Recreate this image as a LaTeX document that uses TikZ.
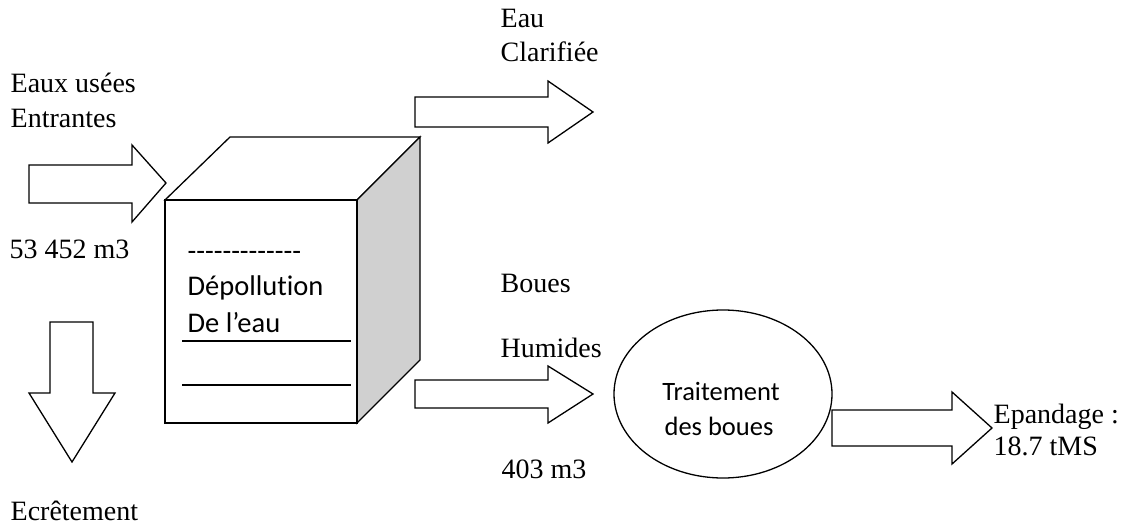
\documentclass[tikz,border=0pt]{standalone}
\usepackage{fontspec}
\setmainfont{Liberation Serif}
\newfontfamily\calib[Ligatures=NoCommon]{Carlito}
\usetikzlibrary{shapes.geometric}
\definecolor{sidegray}{RGB}{208,208,208}
\begin{document}
\begin{tikzpicture}[x=1pt,y=-1pt,line width=1.3pt,line join=miter,
  lbl/.style={anchor=base west,inner sep=0pt,font=\fontsize{28}{33}\selectfont},
  boxtxt/.style={anchor=base west,inner sep=0pt,font=\calib\fontsize{28.5}{34}\selectfont},
  elltxt/.style={anchor=base,inner sep=0pt,font=\calib\fontsize{26.5}{32}\selectfont},
  blockarrow/.style={draw,fill=white}]
\useasboundingbox (0,0) rectangle (1133,524);

% --- 3D box ---
\draw[fill=white] (165,200) -- (230,137) -- (420,137) -- (357,200) -- cycle;
\draw[fill=sidegray] (357,200) -- (420,137) -- (420,360) -- (357,423) -- cycle;
\draw[fill=white] (165,200) rectangle (357,423);
\node[boxtxt] (dash) at (187,260.5) {-------------};
\node[boxtxt] (dep) at (187,295) {Dépollution};
\node[boxtxt] (deleau) at (187,332) {De l’eau};
\coordinate (l1a) at (182,341); \coordinate (l1b) at (351,341);
\coordinate (l2a) at (182,385); \coordinate (l2b) at (351,385);
\draw (l1a) -- (l1b);
\draw (l2a) -- (l2b);

% --- ellipse ---
\node[draw,ellipse,minimum width=218pt,minimum height=168pt,inner sep=0pt] (trt) at (723,394) {};
\node[elltxt] (trt1) at (721,400) {Traitement};
\node[elltxt] (trt2) at (719,435) {des boues};

% --- block arrows ---
% inlet
\draw[blockarrow] (29,165) -- (132,165) -- (132,145) -- (166,183) -- (132,222) -- (132,203) -- (29,203) -- cycle;
% ecretement (down)
\draw[blockarrow] (50,322) -- (93,322) -- (93,393) -- (115,393) -- (72,462) -- (29,393) -- (50,393) -- cycle;
% eau clarifiee
\draw[blockarrow] (415,97) -- (548,97) -- (548,81) -- (593,112) -- (548,143) -- (548,127) -- (415,127) -- cycle;
% boues humides
\draw[blockarrow] (415,380) -- (548,380) -- (548,366) -- (593,394) -- (548,423) -- (548,408) -- (415,408) -- cycle;
% epandage
\draw[blockarrow] (832,410) -- (952,410) -- (952,392) -- (992,428) -- (952,464) -- (952,446) -- (832,446) -- cycle;

% --- labels ---
\node[lbl] (eaux1) at (10,93) {Eaux usées};
\node[lbl] (eaux2) at (10,128) {Entrantes};
\node[lbl] (vol1) at (9,258) {53 452 m3};
\node[lbl] (ecr) at (10,520) {Ecrêtement};
\node[lbl] (eau1) at (500,28) {Eau};
\node[lbl] (eau2) at (500,62) {Clarifiée};
\node[lbl] (boues1) at (500,292) {Boues};
\node[lbl] (boues2) at (500,357) {Humides};
\node[lbl] (vol2) at (501,478) {403 m3};
\node[lbl] (epa1) at (993,423) {Epandage :};
\node[lbl] (epa2) at (993,455) {18.7 tMS};
\end{tikzpicture}
\end{document}
